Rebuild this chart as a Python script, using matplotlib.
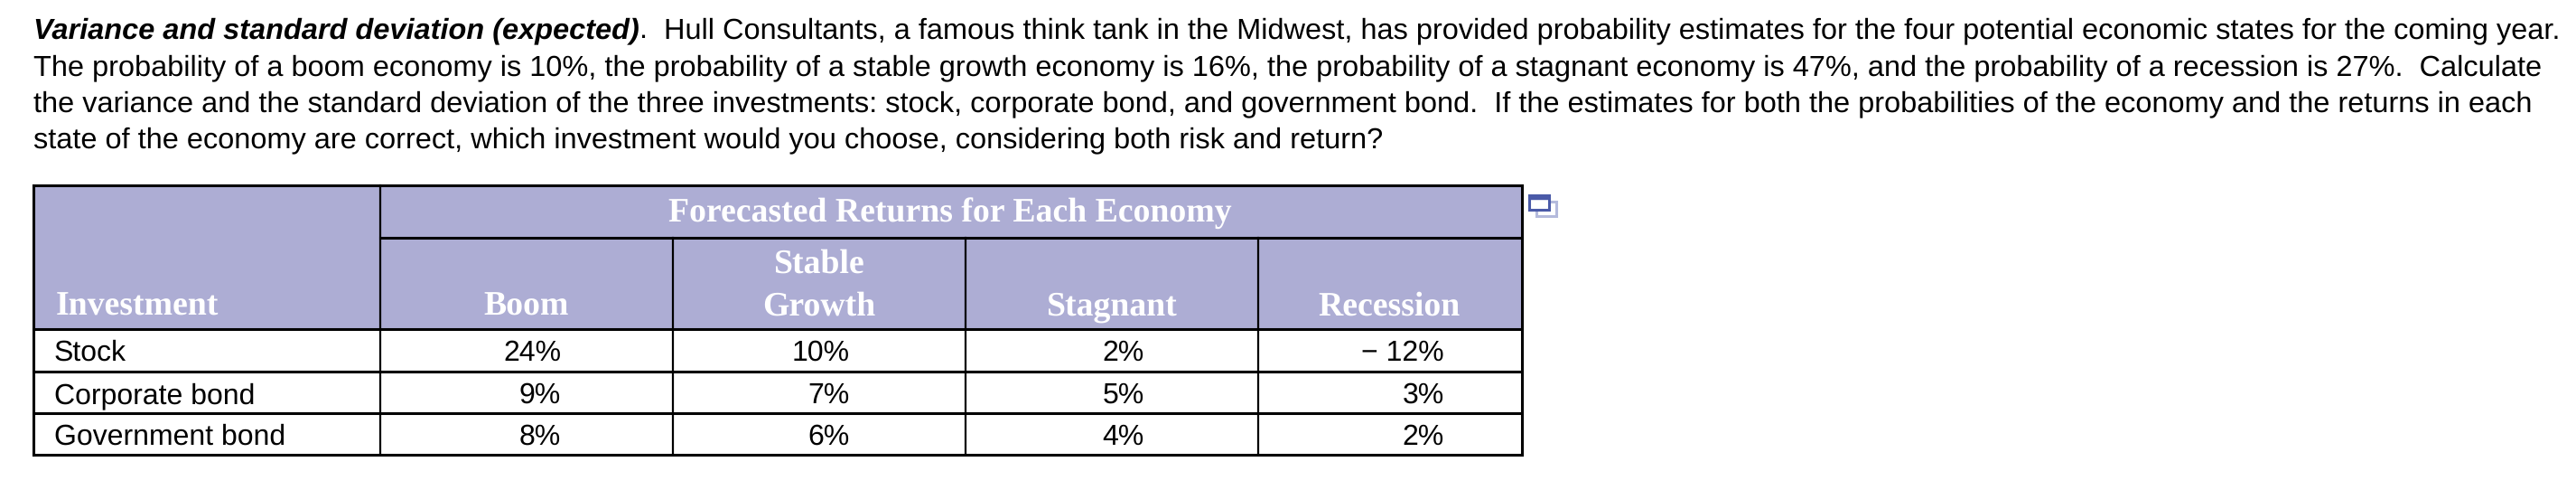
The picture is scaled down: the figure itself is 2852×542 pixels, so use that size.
from matplotlib import pyplot as plt
from matplotlib.patches import Rectangle

plt.rcParams['text.hinting'] = 'no_hinting'

# 文字内容
title_bold = "Variance and standard deviation (expected)"
line_1 = "Hull Consultants, a famous think tank in the Midwest, has provided probability estimates for the four potential economic states for the coming year."
line_2 = "The probability of a boom economy is 10%, the probability of a stable growth economy is 16%, the probability of a stagnant economy is 47%, and the probability of a recession is 27%.  Calculate"
line_3 = "the variance and the standard deviation of the three investments: stock, corporate bond, and government bond.  If the estimates for both the probabilities of the economy and the returns in each"
line_4 = "state of the economy are correct, which investment would you choose, considering both risk and return?"

# 表格数据
group_header = "Forecasted Returns for Each Economy"
first_header = "Investment"
economies = ["Boom", "Stable\nGrowth", "Stagnant", "Recession"]
investments = ["Stock", "Corporate bond", "Government bond"]
stock = [24, 10, 2, -12]
corporate_bond = [9, 7, 5, 3]
government_bond = [8, 6, 4, 2]
returns = [stock, corporate_bond, government_bond]

# 版面 (像素)
W, H = 2852, 542
col_x = [37, 421, 745, 1069, 1393, 1685]
row_y = [364, 411, 457, 503]
top_y, group_y = 205, 263
pct_right = [621, 941, 1267, 1599]
head_center = [583, 907, 1231, 1538]
row_base = [399, 446, 492]
header_color = "#adadd4"
px = 72 / 100                # 1 像素 对应的 pt

fig = plt.figure(figsize=(W / 100, H / 100), dpi=100)
ax = fig.add_axes([0, 0, 1, 1])
ax.set_xlim(0, W)
ax.set_ylim(H, 0)
ax.axis("off")

sans = "Liberation Sans"
serif = "Liberation Serif"
text_size = 32.47 * px

# 段落
ax.text(37, 42, title_bold, family=sans, style="italic", weight="bold", size=text_size, va="baseline")
ax.text(707, 42, ".", family=sans, size=text_size, va="baseline")
ax.text(735, 42, line_1, family=sans, size=text_size, va="baseline")
for y, s in zip([83, 123, 163], [line_2, line_3, line_4]):
    ax.text(37, y, s, family=sans, size=text_size, va="baseline")

# 表头底色
ax.add_patch(Rectangle((col_x[0], top_y), col_x[-1] - col_x[0], row_y[0] - top_y, color=header_color, lw=0))

# 表格线
lw_h, lw_v = 2.2, 1.6
for y in [top_y, row_y[0], row_y[1], row_y[2], row_y[3]]:
    ax.plot([col_x[0], col_x[-1]], [y, y], color="black", lw=lw_h, solid_capstyle="projecting")
ax.plot([col_x[1], col_x[-1]], [group_y, group_y], color="black", lw=lw_h)
ax.plot([col_x[1], col_x[1]], [top_y, row_y[-1]], color="black", lw=lw_v)
for x in col_x[2:-1]:
    ax.plot([x, x], [group_y, row_y[-1]], color="black", lw=lw_v)
for x in [col_x[0], col_x[-1]]:
    ax.plot([x, x], [top_y, row_y[-1]], color="black", lw=lw_h)

# 表头文字
head_size = 37.8 * px
ax.text(1052, 245, group_header, family=serif, weight="bold", size=head_size, color="white", ha="center", va="baseline")
ax.text(62, 349, first_header, family=serif, weight="bold", size=head_size, color="white", va="baseline")
for cx, name in zip(head_center, economies):
    parts = name.split("\n")
    if len(parts) == 2:
        ax.text(cx, 302, parts[0], family=serif, weight="bold", size=head_size, color="white", ha="center", va="baseline")
    ax.text(cx, 349, parts[-1], family=serif, weight="bold", size=head_size, color="white", ha="center", va="baseline")

# 表格内容
body_size = 32 * px
for base, name, vals in zip(row_base, investments, returns):
    ax.text(60, base, name, family=sans, size=body_size, va="baseline")
    for xr, v in zip(pct_right, vals):
        label = f"\u2212 {abs(v)}%" if v < 0 else f"{v}%"
        ax.text(xr, base, label, family=sans, size=body_size, ha="right", va="baseline")

# 右上角小图标
ax.add_patch(Rectangle((1701, 223), 22, 16, fill=False, ec="#b4badc", lw=2.2))
ax.add_patch(Rectangle((1693, 216), 22, 16, fc="white", ec="#4a5aa8", lw=2.2))
ax.add_patch(Rectangle((1693, 216), 22, 4, fc="#4a5aa8", ec="#4a5aa8", lw=1))

fig.savefig("out.png", dpi=100)
